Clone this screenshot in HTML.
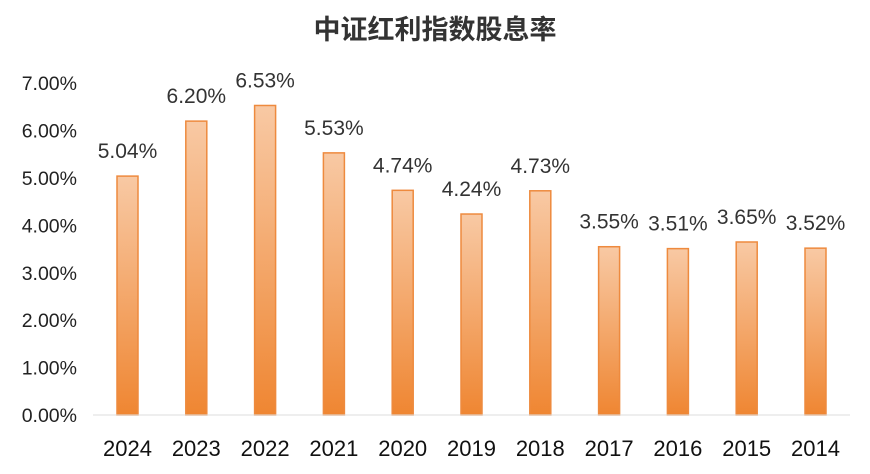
<!DOCTYPE html>
<html><head><meta charset="utf-8"><style>
body{margin:0;background:#fff;width:870px;height:469px;overflow:hidden;font-family:"Liberation Sans","Noto Sans CJK SC",sans-serif}
</style></head><body>
<svg width="870" height="469">
<defs><linearGradient id="g" x1="0" y1="0" x2="0" y2="1"><stop offset="0" stop-color="#f8c9a4"/><stop offset="1" stop-color="#ef8632"/></linearGradient></defs>
<text x="435" y="39" text-anchor="middle" font-size="27" font-weight="bold" fill="#333" font-family="Liberation Sans,Noto Sans CJK SC,sans-serif">中证红利指数股息率</text>
<g id="yaxis"></g><g id="bars"></g><g id="xaxis"></g>
</svg>
<script>
const categories=["2024","2023","2022","2021","2020","2019","2018","2017","2016","2015","2014"];
const values=[5.04,6.20,6.53,5.53,4.74,4.24,4.73,3.55,3.51,3.65,3.52];
const yTicks=[0,1,2,3,4,5,6,7];
const ns="http://www.w3.org/2000/svg";
const y0=415,pxPer=47.4,x0=127.5,step=68.8,bw=21;
const y=v=>y0-v*pxPer, x=i=>x0+i*step;
function mk(t,a,p){const e=document.createElementNS(ns,t);for(const k in a)e.setAttribute(k,a[k]);p.appendChild(e);return e;}
const ya=document.getElementById('yaxis'),bs=document.getElementById('bars'),xa=document.getElementById('xaxis');
yTicks.forEach(t=>{const e=mk('text',{x:77,y:y(t)+7,'text-anchor':'end','font-size':19.5,fill:'#222'},ya);e.textContent=t.toFixed(2)+'%';

});
const ax=mk('line',{x1:93,x2:850,y1:y0,y2:y0,stroke:'#ddd','stroke-width':1},xa);


values.forEach((v,i)=>{const r=mk('rect',{x:x(i)-bw/2,y:y(v),width:bw,height:y0-y(v),fill:'url(#g)',stroke:'#ee8a3e','stroke-width':1.5},bs);


const l=mk('text',{x:x(i),y:y(v)-18,'text-anchor':'middle','font-size':21,fill:'#333'},bs);l.textContent=v.toFixed(2)+'%';


const c=mk('text',{x:x(i),y:456,'text-anchor':'middle','font-size':22,fill:'#111'},xa);c.textContent=categories[i];

});
</script>
</body></html>
